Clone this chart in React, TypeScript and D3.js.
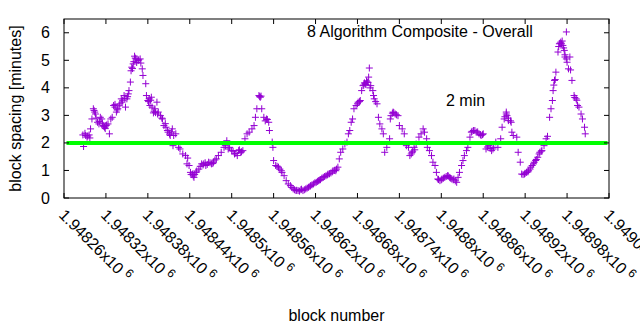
import React from "react";
import * as d3 from "d3";

const blocks = [
  1948287, 1948288, 1948291, 1948293, 1948296, 1948298, 1948300, 1948302, 1948304, 1948305,
  1948308, 1948310, 1948312, 1948314, 1948316, 1948318, 1948320, 1948323, 1948325, 1948327,
  1948329, 1948331, 1948333, 1948335, 1948337, 1948340, 1948342, 1948343, 1948346, 1948348,
  1948350, 1948352, 1948353, 1948355, 1948357, 1948359, 1948361, 1948363, 1948366, 1948369,
  1948372, 1948373, 1948377, 1948378, 1948380, 1948382, 1948383, 1948385, 1948388, 1948390,
  1948393, 1948395, 1948398, 1948401, 1948403, 1948406, 1948409, 1948412, 1948415, 1948416,
  1948417, 1948420, 1948424, 1948426, 1948430, 1948434, 1948436, 1948439, 1948441, 1948444,
  1948446, 1948449, 1948453, 1948457, 1948460, 1948463, 1948467, 1948471, 1948474, 1948478,
  1948481, 1948485, 1948489, 1948491, 1948493, 1948497, 1948500, 1948504, 1948508, 1948510,
  1948513, 1948516, 1948519, 1948522, 1948525, 1948529, 1948532, 1948534, 1948536, 1948539,
  1948541, 1948543, 1948546, 1948550, 1948553, 1948554, 1948558, 1948559, 1948560, 1948563,
  1948567, 1948571, 1948572, 1948575, 1948578, 1948581, 1948584, 1948588, 1948592, 1948595,
  1948599, 1948602, 1948606, 1948610, 1948613, 1948617, 1948621, 1948624, 1948627, 1948631,
  1948635, 1948638, 1948642, 1948645, 1948649, 1948652, 1948654, 1948656, 1948659, 1948662,
  1948665, 1948667, 1948669, 1948671, 1948673, 1948675, 1948678, 1948681, 1948684, 1948686,
  1948688, 1948691, 1948694, 1948696, 1948697, 1948699, 1948702, 1948704, 1948708, 1948710,
  1948712, 1948715, 1948717, 1948719, 1948722, 1948726, 1948727, 1948728, 1948731, 1948734,
  1948738, 1948740, 1948744, 1948747, 1948750, 1948753, 1948755, 1948758, 1948761, 1948764,
  1948768, 1948771, 1948774, 1948776, 1948779, 1948780, 1948783, 1948786, 1948788, 1948791,
  1948793, 1948795, 1948798, 1948801, 1948805, 1948809, 1948812, 1948815, 1948818, 1948822,
  1948824, 1948826, 1948829, 1948831, 1948833, 1948836, 1948838, 1948841, 1948843, 1948846,
  1948850, 1948854, 1948857, 1948860, 1948864, 1948868, 1948872, 1948875, 1948878, 1948881,
  1948885, 1948887, 1948890, 1948893, 1948894, 1948896, 1948900, 1948901, 1948903, 1948908,
  1948910, 1948913, 1948915, 1948919, 1948922, 1948925, 1948928, 1948932, 1948935, 1948938,
  1948941, 1948944, 1948947, 1948950, 1948952, 1948955, 1948957, 1948959, 1948960, 1948962,
  1948964, 1948967, 1948969, 1948971, 1948974, 1948976, 1948977, 1948979, 1948980, 1948982,
  1948984, 1948987, 1948990, 1948993, 1948995, 1948997, 1949000, 1949002, 1949005, 1949006,
];

const spacing = [
  2.29, 1.87, 2.27, 2.21, 2.29, 2.51, 2.87, 3.24, 3.12, 3.05,
  2.75, 2.69, 2.93, 2.87, 2.63, 2.57, 2.63, 2.69, 2.33, 2.87,
  2.93, 3.36, 3.30, 3.12, 3.24, 3.42, 3.60, 3.48, 3.72, 3.30,
  3.60, 3.78, 3.90, 4.21, 4.75, 4.87, 5.15, 5.05, 4.99, 5.05,
  4.69, 4.45, 4.15, 3.72, 3.54, 3.60, 3.36, 3.66, 3.09, 3.24,
  3.48, 3.12, 2.99, 2.87, 2.63, 2.57, 2.39, 2.27, 2.51, 1.90,
  2.27, 2.33, 1.84, 1.78, 1.60, 1.54, 1.24, 1.18, 0.93, 0.87,
  0.75, 0.93, 1.05, 1.24, 1.24, 1.18, 1.30, 1.24, 1.30, 1.42,
  1.54, 1.66, 1.84, 1.90, 2.08, 1.84, 1.72, 1.60, 1.54, 1.72,
  1.66, 1.72, 2.15, 2.33, 2.39, 2.51, 2.63, 2.93, 3.24, 3.72,
  3.66, 3.24, 2.93, 2.87, 2.75, 2.45, 2.03, 1.84, 1.36, 1.18,
  1.12, 0.99, 0.93, 0.81, 0.63, 0.51, 0.45, 0.33, 0.27, 0.27,
  0.30, 0.27, 0.33, 0.39, 0.45, 0.51, 0.57, 0.63, 0.67, 0.75,
  0.81, 0.87, 0.91, 0.99, 0.99, 1.12, 1.42, 1.66, 1.78, 1.96,
  2.03, 2.33, 2.45, 2.75, 2.87, 3.24, 3.36, 3.48, 3.54, 3.90,
  4.08, 4.15, 4.21, 4.39, 4.72, 4.08, 3.90, 3.60, 3.42, 2.93,
  2.69, 2.51, 2.33, 1.66, 1.84, 2.15, 2.87, 2.99, 3.12, 3.05,
  2.99, 2.63, 2.51, 2.33, 1.90, 1.84, 1.54, 1.66, 1.84, 1.96,
  2.21, 2.33, 2.51, 2.39, 2.15, 1.84, 1.72, 1.54, 1.30, 1.18,
  0.93, 0.69, 0.63, 0.69, 0.75, 0.81, 0.75, 0.69, 0.69, 0.57,
  0.75, 0.93, 1.18, 1.36, 1.54, 1.72, 1.84, 2.21, 2.39, 2.45,
  2.39, 2.33, 2.27, 2.33, 1.78, 1.90, 1.72, 1.84, 2.03, 1.84,
  2.15, 2.57, 2.87, 3.12, 2.99, 2.81, 2.75, 2.39, 2.27, 2.21,
  1.66, 1.30, 0.87, 0.87, 0.93, 0.99, 1.12, 1.24, 1.36, 1.48,
  1.66, 1.72, 1.90, 2.15, 2.24, 2.93, 3.24, 3.54, 3.90, 4.27,
  4.57, 5.30, 5.60, 5.66, 5.54, 5.36, 5.12, 6.03, 4.93, 4.69,
  5.12, 4.27, 3.72, 3.60, 3.36, 3.30, 3.05, 2.87, 2.57, 2.33,
];

// additional points read from the denser clusters
const clusterBlocks = [
  1948360, 1948362, 1948364, 1948367, 1948370, 1948358, 1948356,
  1948344, 1948347, 1948351, 1948339, 1948336, 1948333,
  1948290, 1948294, 1948297, 1948303, 1948306, 1948311, 1948315, 1948317, 1948319, 1948321,
  1948381, 1948384, 1948386, 1948389, 1948391, 1948394, 1948400, 1948405, 1948408, 1948411, 1948414,
  1948437, 1948442, 1948445, 1948447, 1948450, 1948455, 1948459, 1948462, 1948465, 1948469, 1948473, 1948476,
  1948495, 1948502, 1948506, 1948511, 1948514,
  1948540, 1948542,
  1948548, 1948551, 1948565, 1948569,
  1948586, 1948590, 1948593, 1948597, 1948600, 1948604, 1948608, 1948612, 1948615, 1948619,
  1948623, 1948626, 1948629, 1948633, 1948637, 1948640, 1948644, 1948647, 1948650,
  1948689, 1948690, 1948692, 1948693, 1948695, 1948698, 1948703, 1948706, 1948683, 1948680,
  1948730, 1948732, 1948736,
  1948757, 1948759, 1948762,
  1948796, 1948800, 1948803, 1948807, 1948810, 1948813, 1948817, 1948820,
  1948844, 1948848, 1948852, 1948856, 1948859, 1948866, 1948870, 1948874,
  1948891, 1948893, 1948896, 1948899,
  1948917, 1948920, 1948924, 1948927, 1948930, 1948933, 1948936, 1948940, 1948943,
  1948968, 1948970, 1948972, 1948973, 1948975, 1948977, 1948979, 1948985, 1948961, 1948963,
  1948991, 1948994,
];
const clusterSpacing = [
  4.95, 5.08, 4.92, 5.02, 4.90, 4.70, 4.62,
  3.55, 3.62, 3.68, 3.35, 3.20, 3.40,
  2.35, 2.25, 2.18, 3.18, 2.90, 2.78, 2.72, 2.60, 2.52, 2.65,
  3.50, 3.55, 3.30, 3.15, 3.10, 3.05, 2.90, 2.70, 2.45, 2.32, 2.40,
  1.45, 0.85, 0.80, 0.85, 0.98, 1.15, 1.20, 1.28, 1.22, 1.28, 1.25, 1.38,
  1.78, 1.70, 1.62, 1.75, 1.68,
  3.68, 3.70,
  2.80, 2.85, 1.15, 1.05,
  0.38, 0.30, 0.28, 0.25, 0.32, 0.30, 0.36, 0.42, 0.48, 0.55,
  0.60, 0.65, 0.72, 0.78, 0.84, 0.88, 0.95, 1.00, 1.05,
  4.10, 4.18, 4.12, 4.25, 4.20, 4.00, 3.72, 3.50, 3.50, 3.42,
  3.08, 3.10, 3.02,
  1.60, 1.70, 1.75,
  0.67, 0.66, 0.72, 0.78, 0.80, 0.72, 0.66, 0.62,
  2.42, 2.45, 2.40, 2.30, 2.30, 1.85, 1.80, 1.78,
  2.95, 3.05, 2.90, 2.80,
  0.85, 0.90, 0.95, 1.05, 1.18, 1.30, 1.40, 1.60, 1.70,
  5.50, 5.62, 5.60, 5.70, 5.45, 5.20, 5.05, 4.65, 4.10, 4.30,
  3.65, 3.55,
];

const xTicks = [
  1948260, 1948320, 1948380, 1948440, 1948500, 1948560, 1948620,
  1948680, 1948740, 1948800, 1948860, 1948920, 1948980, 1949040,
];
const xTickLabels = [
  "1.94826", "1.94832", "1.94838", "1.94844", "1.9485", "1.94856", "1.94862",
  "1.94868", "1.94874", "1.9488", "1.94886", "1.94892", "1.94898", "1.94904",
];
const yTicks = [0, 1, 2, 3, 4, 5, 6];
const threshold = 2;

const W = 640;
const H = 330;
const L = 64;
const R = 609;
const T = 19;
const B = 198;
const FONT = "'Liberation Sans', Arial, sans-serif";
const PURPLE = "#9400d3";

export default function App() {
  const x = d3.scaleLinear().domain([1948260, 1949040]).range([L, R]);
  const y = d3.scaleLinear().domain([0, 6.5]).range([B, T]);
  const allB = blocks.concat(clusterBlocks);
  const allV = spacing.concat(clusterSpacing);
  const pts = allB.map((b, i) => [x(b), y(allV[i])]);
  const s = 3.5;
  const plusPath = pts
    .map(([px, py]) => `M${px - s},${py}H${px + s}M${px},${py - s}V${py + s}`)
    .join("");
  const tick = 5;
  return (
    <svg
      width={W}
      height={H}
      style={{ position: "absolute", left: 0, top: 0, background: "#fff" }}
      fontFamily={FONT}
    >
      <rect x={0} y={0} width={W} height={H} fill="#fff" />
      <path d={plusPath} stroke={PURPLE} strokeWidth={1} fill="none" />
      <line
        x1={L + 2.5}
        x2={R - 1.5}
        y1={y(threshold)}
        y2={y(threshold)}
        stroke="#00ff00"
        strokeWidth={4}
      />
      {yTicks.map((t) => (
        <g key={"y" + t}>
          <line x1={L} x2={L + tick} y1={y(t)} y2={y(t)} stroke="#000" />
          <line x1={R} x2={R - tick} y1={y(t)} y2={y(t)} stroke="#000" />
          <text x={L - 14} y={y(t) + 5.5} textAnchor="end" fontSize={16} fill="#000">
            {t}
          </text>
        </g>
      ))}
      {xTicks.map((t, i) => (
        <g key={"x" + t}>
          <line x1={x(t)} x2={x(t)} y1={B} y2={B - tick} stroke="#000" />
          <line x1={x(t)} x2={x(t)} y1={T} y2={T + tick} stroke="#000" />
          <text
            transform={`translate(${x(t) - 6},${B + 18}) rotate(45)`}
            fontSize={16}
            fill="#000"
          >
            {xTickLabels[i] + "x10"}
            <tspan dx={4} dy={-6} fontSize={12}>6</tspan>
          </text>
        </g>
      ))}
      <rect x={L} y={T} width={R - L} height={B - T} fill="none" stroke="#000" strokeWidth={1} />
      <text x={307} y={37} fontSize={16} fill="#000">
        8 Algorithm Composite - Overall
      </text>
      <text x={446} y={106} fontSize={16} fill="#000">
        2 min
      </text>
      <text x={(L + R) / 2} y={321} textAnchor="middle" fontSize={16} fill="#000">
        block number
      </text>
      <text
        transform={`translate(21,${(T + B) / 2}) rotate(-90)`}
        textAnchor="middle"
        fontSize={16}
        fill="#000"
      >
        block spacing [minutes]
      </text>
    </svg>
  );
}
